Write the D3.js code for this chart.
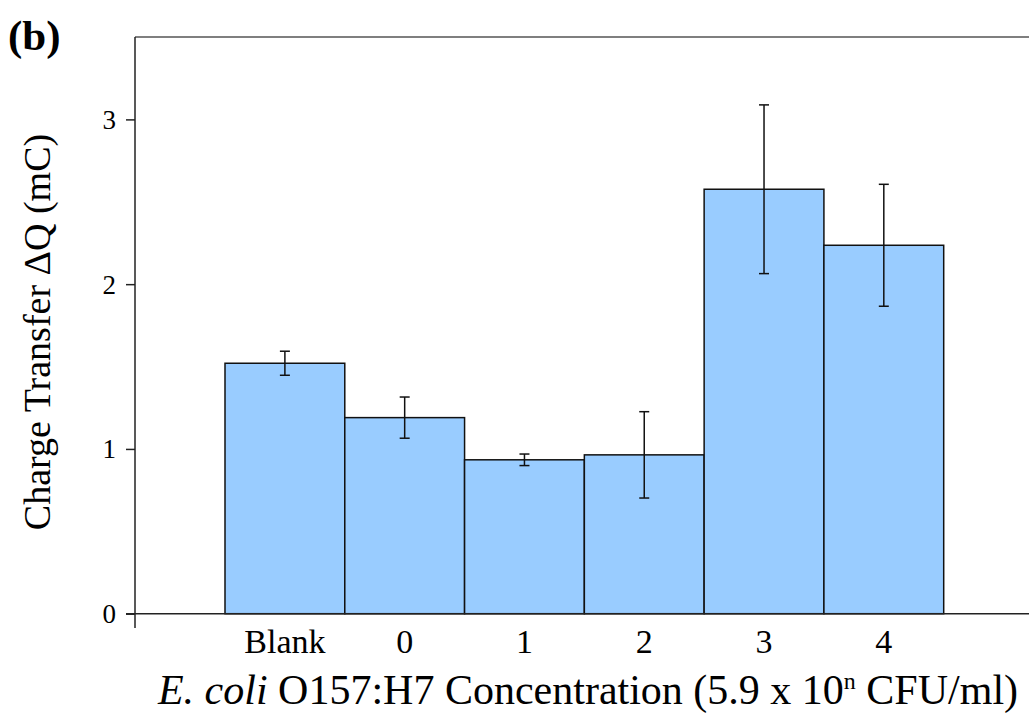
<!DOCTYPE html>
<html>
<head>
<meta charset="utf-8">
<script src="https://d3js.org/d3.v7.min.js"></script>
<style>
  html, body { margin: 0; padding: 0; background: #fff; }
  svg { display: block; }
  text { font-family: "Liberation Serif", "Times New Roman", serif; fill: #000; }
</style>
</head>
<body>
<svg id="chart" width="1029" height="717"></svg>
<script>
// Charge transfer per E. coli O157:H7 concentration level
const categories = ["Blank", "0", "1", "2", "3", "4"];
const meanCharge = [1.52, 1.19, 0.934, 0.964, 2.576, 2.236];
const errCharge = [0.073, 0.125, 0.035, 0.262, 0.512, 0.37];
const yTicks = [0, 1, 2, 3];

const svg = d3.select("#chart");
const plot = { left: 135, top: 37, right: 1029, bottom: 613.7 };

const y = d3.scaleLinear().domain([0, 3.5]).range([plot.bottom, plot.top]);
const x = d3.scaleBand().domain(categories).range([225, 943.7]).padding(0);

const axisColor = "#222";

// frame: top border line
svg.append("line")
  .attr("x1", plot.left).attr("x2", plot.right)
  .attr("y1", plot.top).attr("y2", plot.top)
  .attr("stroke", "#555").attr("stroke-width", 1.5);

// bars
svg.append("g").selectAll("rect")
  .data(categories)
  .join("rect")
  .attr("x", d => x(d))
  .attr("width", x.bandwidth())
  .attr("y", (d, i) => y(meanCharge[i]))
  .attr("height", (d, i) => y(0) - y(meanCharge[i]))
  .attr("fill", "#99ccff")
  .attr("stroke", "#111")
  .attr("stroke-width", 1.5);

// error bars
const eb = svg.append("g").attr("stroke", "#111").attr("stroke-width", 1.5);
categories.forEach((c, i) => {
  const cx = x(c) + x.bandwidth() / 2;
  const lo = y(meanCharge[i] - errCharge[i]);
  const hi = y(meanCharge[i] + errCharge[i]);
  eb.append("line").attr("x1", cx).attr("x2", cx).attr("y1", hi).attr("y2", lo);
  eb.append("line").attr("x1", cx - 5).attr("x2", cx + 5).attr("y1", hi).attr("y2", hi);
  eb.append("line").attr("x1", cx - 5).attr("x2", cx + 5).attr("y1", lo).attr("y2", lo);
});

// y axis
const yAxis = d3.axisLeft(y).tickValues(yTicks).tickSize(9).tickPadding(10).tickFormat(d3.format("d"));
const gy = svg.append("g").attr("transform", `translate(${plot.left},0)`).call(yAxis);
gy.select(".domain").remove();
gy.selectAll(".tick line").attr("stroke", axisColor).attr("stroke-width", 1.5);
gy.selectAll(".tick text")
  .style("font-family", "Liberation Serif, serif")
  .style("font-size", "27px").attr("fill", "#000").attr("dy", "0.33em");

svg.append("line")
  .attr("x1", plot.left).attr("x2", plot.left)
  .attr("y1", plot.top).attr("y2", 628)
  .attr("stroke", axisColor).attr("stroke-width", 1.5);

// x axis
svg.append("line")
  .attr("x1", 126).attr("x2", plot.right)
  .attr("y1", plot.bottom).attr("y2", plot.bottom)
  .attr("stroke", axisColor).attr("stroke-width", 1.5);

const xAxis = d3.axisBottom(x).tickSize(0).tickPadding(15);
const gx = svg.append("g").attr("transform", `translate(0,${plot.bottom})`).call(xAxis);
gx.select(".domain").remove();
gx.selectAll(".tick text")
  .style("font-family", "Liberation Serif, serif")
  .style("font-size", "34px").attr("fill", "#000");

// axis titles
const xt = svg.append("text")
  .attr("x", 588).attr("y", 704)
  .attr("text-anchor", "middle")
  .style("font-size", "42px");
xt.append("tspan").style("font-style", "italic").text("E. coli");
xt.append("tspan").text(" O157:H7 Concentration (5.9 x 10");
xt.append("tspan").attr("dy", -15).style("font-size", "24px").text("n");
xt.append("tspan").attr("dy", 15).text(" CFU/ml)");

svg.append("text")
  .attr("transform", "translate(50,332) rotate(-90)")
  .attr("text-anchor", "middle")
  .style("font-size", "38px")
  .text("Charge Transfer ΔQ (mC)");

// panel label
svg.append("text")
  .attr("x", 8).attr("y", 50)
  .style("font-size", "43px").style("font-weight", "bold")
  .text("(b)");
</script>
</body>
</html>
